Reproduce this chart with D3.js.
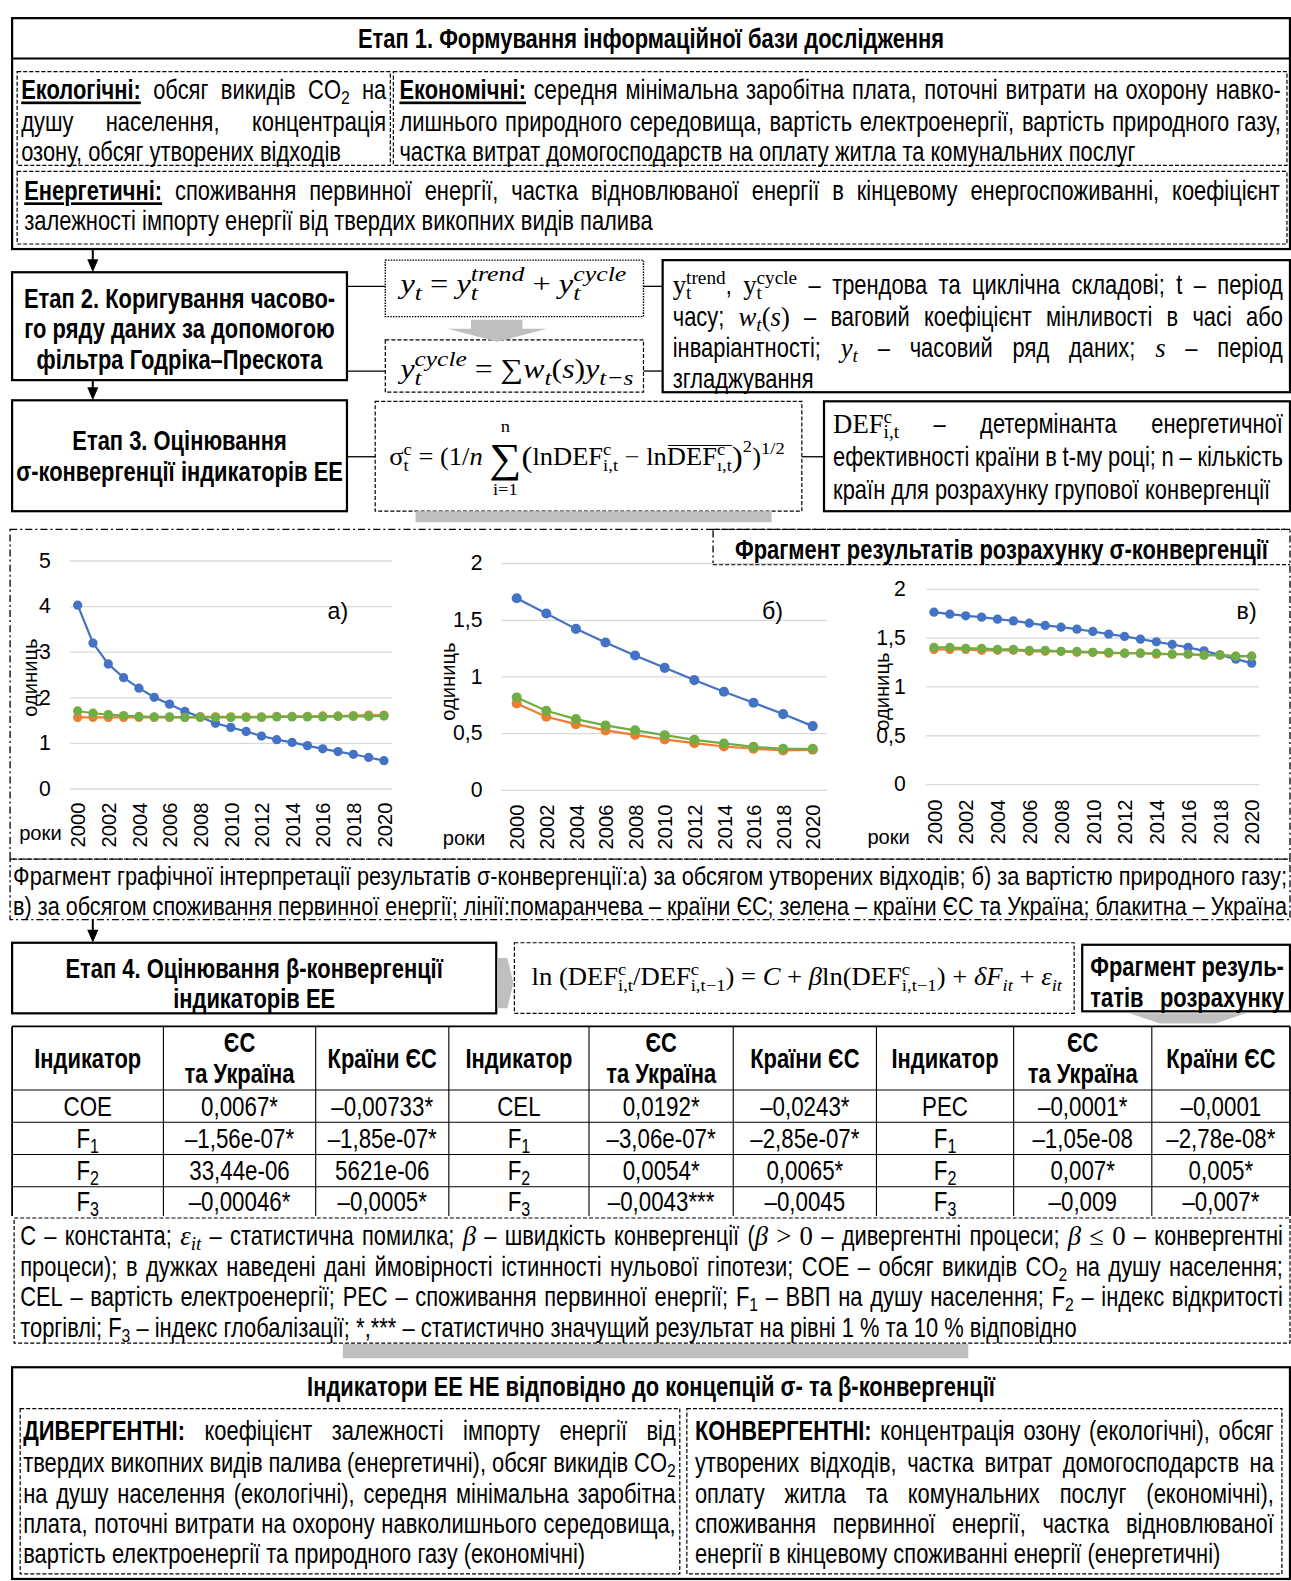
<!DOCTYPE html>
<html><head><meta charset="utf-8">
<script src="https://cdn.jsdelivr.net/npm/d3@7/dist/d3.min.js"></script>
<style>html,body{margin:0;padding:0;background:#fff;} svg{display:block} text{white-space:pre}</style>
</head><body>
<svg id="c" width="1291" height="1581"></svg>
<script>
// ---------------- DATA ----------------
const yearsAll = [2000,2001,2002,2003,2004,2005,2006,2007,2008,2009,2010,2011,2012,2013,2014,2015,2016,2017,2018,2019,2020];
const yearsEven = [2000,2002,2004,2006,2008,2010,2012,2014,2016,2018,2020];
// a) waste volume
const wasteUkraine = [4.02,3.19,2.73,2.43,2.20,2.00,1.85,1.69,1.57,1.43,1.34,1.25,1.15,1.07,1.01,0.94,0.87,0.81,0.75,0.68,0.61];
const wasteEU      = [1.56,1.56,1.56,1.56,1.56,1.56,1.56,1.56,1.57,1.57,1.57,1.57,1.57,1.58,1.58,1.58,1.59,1.59,1.60,1.61,1.61];
const wasteEUUA    = [1.70,1.65,1.62,1.60,1.58,1.57,1.57,1.56,1.56,1.56,1.56,1.56,1.56,1.57,1.57,1.57,1.57,1.58,1.58,1.58,1.59];
// b) natural gas price
const gasUkraine = [1.69,1.556,1.42,1.30,1.185,1.076,0.968,0.865,0.768,0.668,0.562];
const gasEUUA    = [0.815,0.697,0.624,0.568,0.524,0.482,0.441,0.409,0.379,0.362,0.362];
const gasEU      = [0.762,0.644,0.579,0.524,0.485,0.444,0.412,0.382,0.362,0.347,0.353];
// c) primary energy consumption
const pecUkraine = [1.761,1.74,1.724,1.71,1.69,1.672,1.648,1.625,1.607,1.587,1.563,1.536,1.512,1.485,1.457,1.43,1.40,1.365,1.324,1.28,1.239];
const pecEUUA    = [1.40,1.40,1.39,1.39,1.38,1.38,1.37,1.37,1.36,1.36,1.35,1.35,1.34,1.34,1.34,1.33,1.33,1.32,1.32,1.31,1.31];
const pecEU      = [1.38,1.38,1.38,1.37,1.37,1.37,1.36,1.36,1.36,1.35,1.35,1.34,1.34,1.34,1.33,1.33,1.33,1.32,1.32,1.31,1.31];
const yTicks5 = [0,1,2,3,4,5];
const yTicks2 = [0,0.5,1,1.5,2];
// table
const tableHeaders = ["Індикатор","ЄС|та Україна","Країни ЄС"];
const indicatorsA = ["COE","F1","F2","F3"], euuaA = ["0,0067*","–1,56e-07*","33,44e-06","–0,00046*"], euA = ["–0,00733*","–1,85e-07*","5621e-06","–0,0005*"];
const indicatorsB = ["CEL","F1","F2","F3"], euuaB = ["0,0192*","–3,06e-07*","0,0054*","–0,0043***"], euB = ["–0,0243*","–2,85e-07*","0,0065*","–0,0045"];
const indicatorsC = ["PEC","F1","F2","F3"], euuaC = ["–0,0001*","–1,05e-08","0,007*","–0,009"], euC = ["–0,0001","–2,78e-08*","0,005*","–0,007*"];

// ---------------- SETUP ----------------
const svg = d3.select('#c');
svg.append('rect').attr('width',1291).attr('height',1581).attr('fill','#fff');
const root = svg.append('g').attr('transform', `scale(${1291/1280},${1581/1568})`);

let SANS = 'Liberation Sans Narrow', K = 1;
(function(){
  const c = document.createElement('canvas').getContext('2d');
  const s = 'абвгдежзийклмнопрстуфхцчшщ abcdefghijklmnop';
  c.font = '40px monospace'; const a = c.measureText(s).width;
  c.font = '40px "Liberation Sans Narrow", monospace'; const b = c.measureText(s).width;
  if (Math.abs(a-b) < 0.5) { SANS = 'Liberation Sans'; K = 0.82; }
})();
const SERIF = 'Liberation Serif';

function mkText(p, r, x, o){
  const size = o.size * (r.s || 1);
  const k = r.m ? 1 : K;
  const t = p.append('text').attr('x',0).attr('y',0)
    .attr('font-family', r.m ? SERIF : SANS)
    .attr('font-size', size)
    .attr('font-weight', (r.b || (o.b && !r.m)) ? 'bold' : 'normal')
    .attr('font-style', r.i ? 'italic' : 'normal')
    .attr('fill', '#000').text(r.t);
  if (r.u) t.attr('text-decoration','underline');
  const w = t.node().getComputedTextLength() * k;
  const place = (xx) => t.attr('transform', `translate(${xx},${r.dy||0}) scale(${k},1)`);
  place(x);
  return {w, place};
}

function line(p, runs, o){
  const g = p.append('g');
  runs = runs.map(r => typeof r === 'string' ? {t:r} : r);
  let words = [];
  if (o.nosplit) words = [runs];
  else {
    let cur = [];
    runs.forEach(r => {
      if (r.stack) { cur.push(r); return; }
      r.t.split(/( +)/).forEach(piece => {
        if (!piece) return;
        if (/^ +$/.test(piece)) { if (cur.length) { words.push(cur); cur = []; } }
        else cur.push({...r, t:piece});
      });
    });
    if (cur.length) words.push(cur);
  }
  const ws = words.map(w => {
    const wg = g.append('g'); let x = 0; let ov = null;
    w.forEach(r => {
      const x0 = x;
      if (r.stack) {
        const items = r.stack.map(s => mkText(wg, s, x, o));
        const m = d3.max(items, d => d.w);
        if (r.c) items.forEach(d => d.place(x + (m - d.w)/2));
        x += m;
      } else x += mkText(wg, r, x, o).w;
      if (r.gap) x += r.gap;
      if (r.ov) { ov = ov ? [ov[0], x] : [x0, x]; }
    });
    if (ov) wg.append('line').attr('x1',ov[0]+1).attr('x2',ov[1]).attr('y1',-o.size*0.8).attr('y2',-o.size*0.8).attr('stroke','#000').attr('stroke-width',1.1);
    return {g:wg, w:x};
  });
  const total = d3.sum(ws, d => d.w);
  const sp = o.size * 0.278 * K * (o.spm || 1);
  const nat = total + sp * (ws.length - 1);
  let gap = sp, x0 = o.x, sx = 1;
  if (o.align === 'justify' && ws.length > 1) {
    gap = (o.w - total) / (ws.length - 1);
    if (gap < sp * 0.6) { gap = sp; sx = o.w / nat; }
  } else if (o.align === 'center') x0 = o.x + (o.w - nat) / 2;
  else if (o.align === 'right') x0 = o.x + o.w - nat;
  else if (o.align === 'fit') sx = o.w / nat;
  let x = 0;
  ws.forEach(d => { d.g.attr('transform', `translate(${x},0)`); x += d.w + gap; });
  g.attr('transform', `translate(${x0},${o.y}) scale(${sx},1)`);
  return g;
}

function box(x1,y1,x2,y2,st){
  const r = root.append('rect').attr('x',x1).attr('y',y1).attr('width',x2-x1).attr('height',y2-y1).attr('fill','none').attr('stroke','#000');
  if (st === 'solid') r.attr('stroke-width',2.2);
  else if (st === 'dash') r.attr('stroke-width',1.2).attr('stroke-dasharray','4 2');
  else if (st === 'dot') r.attr('stroke-width',1.4).attr('stroke-dasharray','1.5 1.2');
  else if (st === 'dashdot') r.attr('stroke-width',1.3).attr('stroke-dasharray','7 3 2 3');
  return r;
}
function hline(x1,x2,y,w,dash){ const l = root.append('line').attr('x1',x1).attr('x2',x2).attr('y1',y).attr('y2',y).attr('stroke','#000').attr('stroke-width',w||1.3); if(dash) l.attr('stroke-dasharray',dash); return l; }
function vline(x,y1,y2,w,dash){ const l = root.append('line').attr('x1',x).attr('x2',x).attr('y1',y1).attr('y2',y2).attr('stroke','#000').attr('stroke-width',w||1.3); if(dash) l.attr('stroke-dasharray',dash); return l; }
function arrowDown(x,y1,y2){
  vline(x,y1,y2-10,2);
  root.append('path').attr('d',`M${x-5.5},${y2-13} L${x+5.5},${y2-13} L${x},${y2} Z`).attr('fill','#000');
}
function gray(d){ root.append('path').attr('d',d).attr('fill','#bfbfbf'); }

const B = 26.5;   // body size
const H = 26.5;   // bold headings
const m = (t, extra) => Object.assign({t, m:1}, extra||{});
const mi = (t, extra) => Object.assign({t, m:1, i:1}, extra||{});
const dn = (t) => ({t, s:.72, dy:5});

// ---------------- STAGE 1 ----------------
box(12,18,1279,247,'solid');
hline(12,1279,58,2);
line(root, ['Етап 1. Формування інформаційної бази дослідження'], {x:12,w:1267,y:47.5,align:'center',size:H,b:1});
box(17,71,387,164,'dash');
box(390,71,1276,164,'dash');
box(17,170,1276,242,'dash');
line(root, [{t:'Екологічні:',b:1,u:1}, ' обсяг викидів CO', dn('2'), ' на'], {x:21,w:362,y:98.5,align:'justify',size:B});
line(root, ['душу населення, концентрація'], {x:21,w:362,y:129.5,align:'justify',size:B});
line(root, ['озону, обсяг утворених відходів'], {x:21,w:362,y:159.5,align:'left',size:B});
line(root, [{t:'Економічні:',b:1,u:1}, ' середня мінімальна заробітна плата, поточні витрати на охорону навко-'], {x:396,w:874,y:98.5,align:'justify',size:B});
line(root, ['лишнього природного середовища, вартість електроенергії, вартість природного газу,'], {x:396,w:874,y:129.5,align:'justify',size:B});
line(root, ['частка витрат домогосподарств на оплату житла та комунальних  послуг'], {x:396,w:874,y:159.5,align:'left',size:B});
line(root, [{t:'Енергетичні:',b:1,u:1}, ' споживання первинної енергії, частка відновлюваної енергії в кінцевому енергоспоживанні, коефіцієнт'], {x:24,w:1245,y:198.5,align:'justify',size:B});
line(root, ['залежності імпорту енергії від твердих викопних видів палива'], {x:24,w:1245,y:228.5,align:'left',size:B});
arrowDown(92,247,270);

// ---------------- STAGE 2 ----------------
box(12,270,344,377,'solid');
line(root, ['Етап 2. Коригування часово-'], {x:12,w:332,y:305.5,align:'center',size:H,b:1});
line(root, ['го ряду даних за допомогою'], {x:12,w:332,y:335.5,align:'center',size:H,b:1});
line(root, ['фільтра Годріка–Прескота'], {x:12,w:332,y:365.5,align:'center',size:H,b:1});
hline(344,382,284,1.3); hline(344,382,368,1.3);
box(382,258,638,314,'dot');
box(382,337,638,389,'dash');
hline(638,657,284,1.3); hline(638,657,368,1.3);
gray('M467,317 L518,317 L518,326 L542,326 L493,339 L444,326 L467,326 Z');
const sub = (t) => mi(t,{s:.8,dy:7});
const sup = (t) => mi(t,{s:.8,dy:-12});
line(root, [mi('y'), sub('t'), m(' = '), mi('y'), {stack:[sup('trend'), sub('t')]}, m(' + '), mi('y'), {stack:[sup('cycle'), sub('t')]}], {x:397,w:224,y:291,align:'fit',size:27,nosplit:1});
line(root, [mi('y'), {stack:[sup('cycle'), sub('t')]}, m(' = '), m('∑'), mi('w'), sub('t'), m('('), mi('s'), m(')'), mi('y'), sub('t−s')], {x:397,w:231,y:375,align:'fit',size:27,nosplit:1});
box(657,258,1279,389,'solid');
line(root, [m('y'), {stack:[m('trend',{s:.72,dy:-10}), m('t',{s:.72,dy:5})]}, {t:', '}, m('y'), {stack:[m('cycle',{s:.72,dy:-10}), m('t',{s:.72,dy:5})]}, ' – трендова та циклічна складові; t – період'], {x:667,w:605,y:291.5,align:'justify',size:B});
line(root, ['часу; ', mi('w'), mi('t',{s:.72,dy:5}), m('('), mi('s'), m(')'), ' – ваговий коефіцієнт мінливості в часі або'], {x:667,w:605,y:323.5,align:'justify',size:B});
line(root, ['інваріантності; ', mi('y'), mi('t',{s:.72,dy:5}), ' – часовий ряд даних; ', mi('s'), ' – період'], {x:667,w:605,y:354.5,align:'justify',size:B});
line(root, ['згладжування'], {x:667,w:605,y:385,align:'left',size:B});
arrowDown(92,377,397);

// ---------------- STAGE 3 ----------------
box(12,397,344,507,'solid');
line(root, ['Етап 3. Оцінювання'], {x:12,w:332,y:446.5,align:'center',size:H,b:1});
line(root, ['σ-конвергенції індикаторів ЕЕ'], {x:12,w:332,y:477.5,align:'center',size:H,b:1});
hline(344,372,453,1.3);
box(372,398,795,507,'dash');
hline(795,817,453,1.3);
gray('M412,507 L765,507 L765,518 L412,518 Z');
const sb3 = (t) => m(t,{s:.7,dy:6});
const sp3 = (t) => m(t,{s:.7,dy:-10});
line(root, [m('σ'), {stack:[sp3('c'), sb3('t')]}, m(' = (1/'), mi('n'), m(' '),
  {c:1, stack:[m('n',{s:.7,dy:-33}), m('∑',{s:1.7,dy:7}), m('i=1',{s:.7,dy:30})]},
  m('(',{s:1.25,dy:2}), m('lnDEF'), {stack:[sp3('c'), sb3('i,t')]}, m(' − ln'), m('DEF',{ov:1}), {ov:1, stack:[sp3('c'), sb3('ı,t')]}, m(')',{s:1.25,dy:2}), m('2',{s:.7,dy:-13}), m(')'), m('1/2',{s:.7,dy:-11})],
  {x:386,w:392,y:461,align:'fit',size:24,nosplit:1});
box(817,398,1279,507,'solid');
line(root, [m('DEF'), {stack:[m('c',{s:.72,dy:-10}), m('i,t',{s:.72,dy:5})]}, ' – детермінанта енергетичної'], {x:826,w:446,y:429.5,align:'justify',size:B});
line(root, ['ефективності країни в t-му році; n – кількість'], {x:826,w:446,y:462.5,align:'justify',size:B});
line(root, ['країн для розрахунку групової конвергенції'], {x:826,w:446,y:494.5,align:'left',size:B});

// ---------------- CHARTS ----------------
box(10,525,1279,852,'dashdot');
root.append('rect').attr('x',707).attr('y',526).attr('width',571).attr('height',34).attr('fill','#fff');
vline(707,526,560,1.3,'7 3 2 3'); hline(707,1279,560,1.3,'4 2'); hline(707,1279,525,1.3,'7 3 2 3');
line(root, ['Фрагмент результатів розрахунку σ-конвергенції'], {x:707,w:572,y:554.5,align:'center',size:H,b:1});

const BLUE = '#4472C4', ORANGE = '#ED7D31', GREEN = '#70AD47';
function drawChart(c){
  const x = d3.scaleLinear().domain([2000,2020]).range([c.px0, c.px1]);
  const y = d3.scaleLinear().domain([0, c.max]).range([c.py0, c.py1]);
  const g = root.append('g');
  g.append('g').attr('transform', `translate(${c.gx0},0)`)
    .call(d3.axisLeft(y).tickValues(c.ticks).tickSize(-(c.gx1 - c.gx0)).tickPadding(c.pad).tickFormat(d => String(d).replace('.', ',')))
    .call(s => { s.select('.domain').remove();
      s.selectAll('line').attr('stroke','#d9d9d9').attr('stroke-width',1.3);
      s.selectAll('text').attr('font-family',SANS).attr('font-size',21).attr('fill','#000'); });
  g.append('g').attr('transform', `translate(0,${c.xl})`)
    .call(d3.axisBottom(x).tickValues(yearsEven).tickSize(0).tickFormat(d3.format('d')))
    .call(s => { s.select('.domain').remove();
      s.selectAll('text').attr('transform','rotate(-90)').attr('x',0).attr('y',0).attr('dy','0.36em').attr('text-anchor','end')
        .attr('font-family',SANS).attr('font-size',20).attr('fill','#000'); });
  c.series.forEach(se => {
    const pts = c.years.map((yr,i) => [yr, se.v[i]]);
    g.append('path').datum(pts).attr('d', d3.line().x(d => x(d[0])).y(d => y(d[1])))
      .attr('fill','none').attr('stroke',se.c).attr('stroke-width',2.2);
    g.append('g').selectAll('circle').data(pts).join('circle')
      .attr('cx', d => x(d[0])).attr('cy', d => y(d[1])).attr('r', c.r).attr('fill', se.c);
  });
  g.append('text').attr('transform', `translate(${c.ux},${c.uy}) rotate(-90)`).attr('text-anchor','middle').attr('dy','0.35em')
    .attr('font-family',SANS).attr('font-size',20).text('одиниць');
  g.append('text').attr('x', c.rx).attr('y', c.ry).attr('font-family',SANS).attr('font-size',20).text('роки');
  g.append('text').attr('x', c.lx).attr('y', c.ly).attr('text-anchor','middle').attr('font-family',SANS).attr('font-size',23).text(c.label);
}
drawChart({px0:77, px1:380.7, py0:782, py1:555.9, gx0:69.4, gx1:388.7, max:5, ticks:yTicks5, pad:19, xl:796, r:4.6, years:yearsAll,
  series:[{v:wasteUkraine,c:BLUE},{v:wasteEU,c:ORANGE},{v:wasteEUUA,c:GREEN}], ux:30, uy:672, rx:19, ry:833, lx:335, ly:614, label:'а)'});
drawChart({px0:512.3, px1:805.8, py0:783.3, py1:558.5, gx0:497.4, gx1:820, max:2, ticks:yTicks2, pad:19, xl:798, r:5, years:yearsEven,
  series:[{v:gasUkraine,c:BLUE},{v:gasEU,c:ORANGE},{v:gasEUUA,c:GREEN}], ux:444, uy:676, rx:439, ry:838, lx:766, ly:614, label:'б)'});
drawChart({px0:926, px1:1241, py0:777.6, py1:584, gx0:918, gx1:1248.6, max:2, ticks:yTicks2, pad:20, xl:793, r:4.6, years:yearsAll,
  series:[{v:pecUkraine,c:BLUE},{v:pecEU,c:ORANGE},{v:pecEUUA,c:GREEN}], ux:874, uy:686, rx:860, ry:837, lx:1236, ly:614, label:'в)'});

box(10,852,1279,912,'dashdot');
line(root, ['Фрагмент графічної інтерпретації результатів σ-конвергенції:а) за обсягом утворених відходів; б) за вартістю природного газу;'], {x:13,w:1263,y:877.5,align:'fit',size:25});
line(root, ['в) за обсягом споживання первинної енергії; лінії:помаранчева – країни ЄС; зелена – країни ЄС та Україна; блакитна – Україна'], {x:13,w:1263,y:907.5,align:'fit',size:25});
arrowDown(92,912,935);

// ---------------- STAGE 4 ----------------
box(12,935,492,1005,'solid');
line(root, ['Етап 4. Оцінювання β-конвергенції'], {x:12,w:480,y:969.5,align:'center',size:H,b:1});
line(root, ['індикаторів ЕЕ'], {x:12,w:480,y:999.5,align:'center',size:H,b:1});
gray('M493,950 L503,950 L509,975 L503,1000 L493,1000 Z');
box(510,935,1065,1005,'dash');
const sb4 = (t) => m(t,{s:.7,dy:6});
const sp4 = (t) => m(t,{s:.7,dy:-10});
line(root, [m('ln (DEF'), {stack:[sp4('c'), sb4('i,t')]}, m('/DEF'), {stack:[sp4('c'), sb4('i,t−1')]}, m(') = '), mi('C'), m(' + '), mi('β'), m('ln(DEF'), {stack:[sp4('c'), sb4('i,t−1')]}, m(') + '), mi('δF'), mi('it',{s:.7,dy:6}), m(' + '), mi('ε'), mi('it',{s:.7,dy:6})],
  {x:527,w:526,y:977,align:'fit',size:24,nosplit:1});
box(1073,937,1279,1003,'solid');
line(root, ['Фрагмент резуль-'], {x:1081,w:192,y:967.5,align:'justify',size:H,b:1});
line(root, ['татів розрахунку'], {x:1081,w:192,y:998.5,align:'justify',size:H,b:1});
gray('M1120,1005 L1235,1005 L1205,1015 L1150,1015 Z');

// ---------------- TABLE ----------------
const tableCols = [12,162,313,445,584,727,869,1005,1142,1279];
const tableRowsY = [1018,1081,1113,1145,1177,1206];
const blocks = [[indicatorsA,euuaA,euA],[indicatorsB,euuaB,euB],[indicatorsC,euuaC,euC]];
const cells = [];
blocks.forEach((bl, bi) => {
  tableHeaders.forEach((h, ci) => cells.push({col: bi*3+ci, row: 0, text: h, head: true}));
  bl.forEach((col, ci) => col.forEach((v, ri) => cells.push({col: bi*3+ci, row: ri+1, text: v})));
});
const tg = root.append('g');
tg.selectAll('line.v').data(tableCols).join('line').attr('x1',d=>d).attr('x2',d=>d).attr('y1',tableRowsY[0]).attr('y2',tableRowsY[5]).attr('stroke','#000').attr('stroke-width',(d,i)=> (i===0||i===tableCols.length-1)?1.8:1.1);
tg.selectAll('line.h').data(tableRowsY.slice(0,5)).join('line').attr('x1',tableCols[0]).attr('x2',tableCols[9]).attr('y1',d=>d).attr('y2',d=>d).attr('stroke','#000').attr('stroke-width',(d,i)=>i===0?1.8:1.1);
cells.forEach(c => {
  const x1 = tableCols[c.col], w = tableCols[c.col+1] - x1;
  const y1 = tableRowsY[c.row], y2 = tableRowsY[c.row+1], cy = (y1+y2)/2;
  if (c.head) {
    const parts = c.text.split('|');
    if (parts.length === 2) {
      line(tg, [parts[0]], {x:x1,w,y:1034+9.5,align:'center',size:H,b:1});
      line(tg, [parts[1]], {x:x1,w,y:1065+9.5,align:'center',size:H,b:1});
    } else line(tg, [parts[0]], {x:x1,w,y:1050+9.5,align:'center',size:H,b:1});
  } else {
    const mm = c.text.match(/^F(\d)$/);
    const runs = mm ? [{t:'F'}, {t:mm[1], s:.72, dy:5}] : [c.text];
    line(tg, runs, {x:x1,w,y:cy+9.5,align:'center',size:27});
  }
});

// ---------------- NOTE ----------------
box(14,1208,1279,1332,'dash');
line(root, ['С – константа; ', mi('ε'), mi('it',{s:.72,dy:5}), ' – статистична помилка; ', mi('β'), ' – швидкість конвергенції (', mi('β'), m(' > 0'), ' – дивергентні процеси; ', mi('β'), m(' ≤ 0'), ' – конвергентні'], {x:20,w:1252,y:1234.5,align:'justify',size:B});
line(root, ['процеси); в дужках наведені дані ймовірності істинності нульової гіпотези; COE – обсяг викидів CO', dn('2'), ' на душу населення;'], {x:20,w:1252,y:1265.5,align:'justify',size:B});
line(root, ['CEL – вартість електроенергії; PEC – споживання первинної енергії; F', dn('1'), ' – ВВП на душу населення; F', dn('2'), ' – індекс відкритості'], {x:20,w:1252,y:1295.5,align:'justify',size:B});
line(root, ['торгівлі; F', dn('3'), ' – індекс глобалізації; *,*** – статистично значущий результат на рівні 1 % та 10 % відповідно'], {x:20,w:1252,y:1326,align:'left',size:B});
gray('M340,1333 L960,1333 L960,1347 L340,1347 Z');

// ---------------- FINAL ----------------
box(12,1356,1279,1566,'solid');
line(root, ['Індикатори ЕЕ НЕ відповідно до концепцій σ- та β-конвергенції'], {x:12,w:1267,y:1384.5,align:'center',size:H,b:1});
box(20,1397,674,1561,'dash');
box(681,1397,1271,1561,'dash');
const LX = 23, LW = 647, RX = 689, RW = 574;
line(root, [{t:'ДИВЕРГЕНТНІ:',b:1}, ' коефіцієнт залежності імпорту енергії від'], {x:LX,w:LW,y:1428.5,align:'justify',size:B});
line(root, ['твердих викопних видів палива (енергетичні), обсяг викидів CO', dn('2')], {x:LX,w:LW,y:1459.5,align:'justify',size:B});
line(root, ['на душу населення (екологічні), середня мінімальна заробітна'], {x:LX,w:LW,y:1490.5,align:'justify',size:B});
line(root, ['плата, поточні витрати на охорону навколишнього середовища,'], {x:LX,w:LW,y:1520.5,align:'justify',size:B});
line(root, ['вартість електроенергії та природного газу (економічні)'], {x:LX,w:LW,y:1550.5,align:'left',size:B});
line(root, [{t:'КОНВЕРГЕНТНІ:',b:1}, ' концентрація озону (екологічні), обсяг'], {x:RX,w:RW,y:1428.5,align:'justify',size:B});
line(root, ['утворених відходів, частка витрат домогосподарств на'], {x:RX,w:RW,y:1459.5,align:'justify',size:B});
line(root, ['оплату житла та комунальних послуг (економічні),'], {x:RX,w:RW,y:1490.5,align:'justify',size:B});
line(root, ['споживання первинної енергії, частка відновлюваної'], {x:RX,w:RW,y:1520.5,align:'justify',size:B});
line(root, ['енергії в кінцевому споживанні енергії (енергетичні)'], {x:RX,w:RW,y:1550.5,align:'left',size:B});
</script>
</body></html>
